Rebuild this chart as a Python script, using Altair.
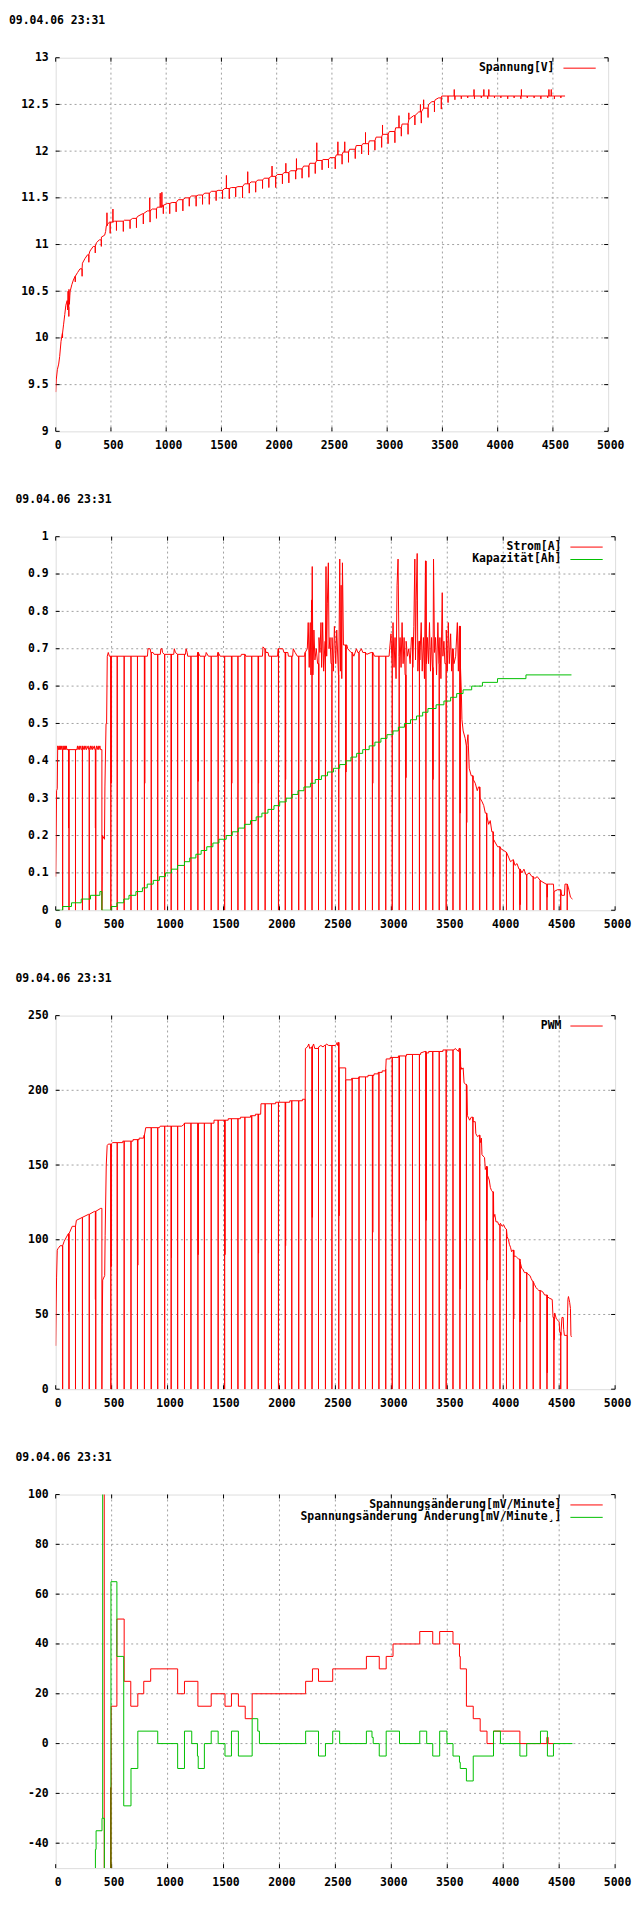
import altair as alt
import pandas as pd

# ---------------- text / ticks ----------------
STAMP = "09.04.06 23:31"
X_TICKS = [0, 500, 1000, 1500, 2000, 2500, 3000, 3500, 4000, 4500, 5000]
V_TICKS = [9, 9.5, 10, 10.5, 11, 11.5, 12, 12.5, 13]
A_TICKS = [0, 0.1, 0.2, 0.3, 0.4, 0.5, 0.6, 0.7, 0.8, 0.9, 1]
P_TICKS = [0, 50, 100, 150, 200, 250]
D_TICKS = [-40, -20, 0, 20, 40, 60, 80, 100]

# ---------------- pulse times (charging pauses) ----------------
PULSES = [62, 119, 177, 239, 300, 358, 413,
          493, 550, 612, 673, 731, 793, 854, 912, 974, 1032, 1090, 1151, 1209, 1271,
          1329, 1390, 1452, 1510, 1571, 1629, 1691, 1752, 1810, 1872, 1929, 1991, 2052,
          2110, 2172, 2230, 2291, 2349, 2411, 2469, 2530, 2592, 2650, 2711, 2769, 2831,
          2889, 2950, 3008, 3070, 3128, 3189, 3251, 3309, 3370, 3428, 3490, 3551, 3613,
          3671, 3729, 3790, 3852, 3910, 3971, 4029, 4091, 4149, 4210, 4268, 4330, 4391,
          4453, 4514, 4572]

# ---------------- chart 1: Spannung[V] ----------------
VOLT_X = [0, 5, 15, 27, 36, 48, 60, 71, 82, 92, 104, 108, 112, 116, 120, 124, 128, 131,
          146, 160, 176, 198, 220, 242, 265, 288, 310, 340, 369, 395, 414, 443, 452, 458,
          470, 488, 533, 622, 696, 740, 786, 830, 875, 920, 964, 1010, 1054, 1110, 1173,
          1230, 1292, 1350, 1411, 1470, 1530, 1590, 1649, 1710, 1768, 1830, 1887, 1950,
          2006, 2065, 2125, 2185, 2244, 2300, 2363, 2420, 2482, 2540, 2601, 2660, 2720,
          2780, 2839, 2900, 2958, 3020, 3077, 3135, 3196, 3240, 3286, 3330, 3375, 3405,
          3435, 3465, 3494, 3540, 4610]
VOLT_Y = [9.42, 9.55, 9.66, 9.72, 9.80, 9.96, 10.05, 10.14, 10.25, 10.35, 10.40, 10.30,
          10.50, 10.33, 10.52, 10.36, 10.45, 10.50, 10.57, 10.62, 10.66, 10.70, 10.74,
          10.80, 10.85, 10.89, 10.93, 10.98, 11.02, 11.05, 11.08, 11.10, 11.14, 11.20,
          11.22, 11.24, 11.25, 11.26, 11.28, 11.30, 11.33, 11.36, 11.38, 11.40, 11.42,
          11.44, 11.45, 11.48, 11.50, 11.52, 11.53, 11.55, 11.57, 11.58, 11.60, 11.61,
          11.62, 11.65, 11.67, 11.69, 11.71, 11.73, 11.75, 11.77, 11.79, 11.81, 11.84,
          11.87, 11.90, 11.91, 11.93, 11.96, 11.99, 12.02, 12.06, 12.08, 12.11, 12.15,
          12.18, 12.21, 12.25, 12.29, 12.34, 12.38, 12.42, 12.46, 12.50, 12.53, 12.55,
          12.57, 12.59, 12.59, 12.59]
V_DOWN = [0.05, 0.10, 0.06, 0.08, 0.08, 0.07, 0.07,
          0.12, 0.10, 0.11, 0.09, 0.10, 0.11, 0.12, 0.10, 0.09, 0.11,
          0.10, 0.12, 0.09, 0.11, 0.10, 0.12, 0.10, 0.09, 0.11, 0.10,
          0.12, 0.10, 0.11, 0.09, 0.10, 0.12, 0.10, 0.11, 0.09, 0.10,
          0.12, 0.11, 0.10, 0.09, 0.12, 0.10, 0.11, 0.10, 0.09, 0.12,
          0.10, 0.11, 0.10, 0.12, 0.09, 0.11, 0.10, 0.12, 0.10, 0.11, 0.12,
          0.07, 0.04, 0.03, 0.02, 0.03, 0.02, 0.03, 0.02, 0.02, 0.03,
          0.02, 0.03, 0.02, 0.02, 0.03, 0.02, 0.03, 0.02]
V_UP_X = [464, 518, 851, 946, 961, 1545, 1738, 1958, 2083, 2179, 2363, 2554, 2616, 2804,
          2958, 3107, 3196, 3301, 3330, 3607, 3786, 3875, 3920, 4215, 4464, 4485]
V_UP_Y = [11.34, 11.38, 11.50, 11.55, 11.56, 11.74, 11.78, 11.84, 11.87, 11.92, 12.09,
          12.10, 12.10, 12.20, 12.28, 12.38, 12.41, 12.50, 12.55, 12.66, 12.66, 12.66,
          12.66, 12.66, 12.66, 12.66]

# ---------------- chart 2: Strom[A], Kapazität[Ah] ----------------
CUR_X = [0, 4, 8, 14, 18, 25, 30, 35, 40, 45, 50, 55, 65, 70, 75, 80, 85, 90, 95, 100, 112,
         190, 195, 200, 210, 215, 225, 230, 240, 245, 255, 260, 270, 275, 290, 295, 310,
         315, 325, 330, 345, 350, 365, 370, 380, 385, 395, 400, 413, 413, 416, 418, 436,
         440, 450, 455, 461, 470, 480, 820, 825, 844, 850, 870, 880, 935, 940, 950, 955,
         970, 1055, 1060, 1070, 1090, 1160, 1165, 1175, 1180, 1265, 1270, 1290, 1340,
         1345, 1365, 1445, 1450, 1470, 1655, 1660, 1700, 1848, 1853, 1868, 1880, 1898,
         1905, 1983, 1988, 2030, 2040, 2075, 2080, 2118, 2123, 2140, 2160, 2225, 2230,
         2249, 2257, 2266, 2275, 2281, 2287, 2293, 2299, 2308, 2317, 2329, 2341, 2353,
         2362, 2371, 2377, 2386, 2395, 2407, 2416, 2422, 2428, 2437, 2443, 2452, 2461,
         2470, 2482, 2491, 2503, 2512, 2527, 2539, 2545, 2551, 2557, 2563, 2572, 2602,
         2610, 2640, 2665, 2688, 2700, 2732, 2745, 2780, 2820, 2850, 2980, 2985, 2997,
         3006, 3015, 3024, 3033, 3042, 3051, 3060, 3069, 3078, 3087, 3096, 3105, 3114,
         3123, 3132, 3144, 3156, 3168, 3180, 3192, 3201, 3210, 3216, 3222, 3231, 3237,
         3246, 3255, 3267, 3276, 3287, 3296, 3305, 3314, 3323, 3332, 3341, 3350, 3359,
         3368, 3377, 3386, 3395, 3404, 3416, 3425, 3434, 3443, 3455, 3461, 3470, 3479,
         3491, 3500, 3509, 3518, 3530, 3539, 3548, 3560, 3575, 3590, 3599, 3608, 3617,
         3626, 3631, 3642, 3660, 3670, 3685, 3696, 3714, 3732, 3750, 3768, 3779, 3793,
         3812, 3826, 3840, 3855, 3870, 3884, 3898, 3913, 3931, 3950, 3978, 4004, 4029,
         4051, 4065, 4087, 4105, 4123, 4141, 4167, 4185, 4203, 4232, 4257, 4282, 4304,
         4330, 4355, 4384, 4420, 4449, 4452, 4485, 4511, 4522, 4547, 4552, 4565, 4583,
         4601, 4619]
CUR_Y = [0.09, 0.20, 0.32, 0.325, 0.44, 0.43, 0.44, 0.43, 0.44, 0.43, 0.44, 0.43, 0.44,
         0.43, 0.44, 0.43, 0.44, 0.43, 0.44, 0.43, 0.43, 0.43, 0.44, 0.43, 0.44, 0.43,
         0.44, 0.43, 0.44, 0.43, 0.44, 0.43, 0.44, 0.43, 0.44, 0.43, 0.44, 0.43, 0.44,
         0.43, 0.44, 0.43, 0.44, 0.43, 0.44, 0.43, 0.44, 0.43, 0.43, 0.0, 0.09, 0.20,
         0.19, 0.33, 0.50, 0.50, 0.68, 0.69, 0.68, 0.68, 0.70, 0.70, 0.69, 0.69, 0.685,
         0.685, 0.70, 0.70, 0.69, 0.685, 0.685, 0.70, 0.69, 0.685, 0.685, 0.70, 0.69,
         0.68, 0.68, 0.69, 0.68, 0.68, 0.69, 0.68, 0.68, 0.69, 0.68, 0.68, 0.685, 0.68,
         0.68, 0.705, 0.70, 0.69, 0.69, 0.68, 0.68, 0.70, 0.70, 0.69, 0.69, 0.68, 0.68,
         0.70, 0.69, 0.68, 0.68, 0.69, 0.70, 0.77, 0.65, 0.77, 0.63, 0.83, 0.92, 0.63,
         0.75, 0.67, 0.70, 0.66, 0.73, 0.69, 0.77, 0.65, 0.77, 0.64, 0.72, 0.92, 0.68,
         0.82, 0.93, 0.70, 0.73, 0.66, 0.73, 0.64, 0.76, 0.66, 0.75, 0.63, 0.94, 0.64,
         0.87, 0.62, 0.93, 0.71, 0.71, 0.70, 0.69, 0.68, 0.70, 0.69, 0.70, 0.69, 0.685,
         0.69, 0.68, 0.68, 0.70, 0.74, 0.66, 0.77, 0.65, 0.73, 0.62, 0.87, 0.94, 0.68,
         0.73, 0.65, 0.77, 0.66, 0.73, 0.63, 0.72, 0.68, 0.70, 0.66, 0.73, 0.65, 0.76,
         0.94, 0.67, 0.83, 0.955, 0.64, 0.72, 0.67, 0.77, 0.64, 0.73, 0.62, 0.935, 0.66,
         0.73, 0.66, 0.77, 0.64, 0.73, 0.65, 0.94, 0.69, 0.73, 0.63, 0.77, 0.66, 0.73,
         0.62, 0.85, 0.68, 0.72, 0.66, 0.75, 0.64, 0.77, 0.66, 0.74, 0.64, 0.70, 0.66,
         0.68, 0.77, 0.64, 0.76, 0.66, 0.58, 0.51, 0.48, 0.46, 0.44, 0.47, 0.38, 0.36,
         0.35, 0.34, 0.32, 0.33, 0.30, 0.29, 0.28, 0.26, 0.25, 0.23, 0.24, 0.21, 0.19,
         0.18, 0.17, 0.165, 0.16, 0.155, 0.14, 0.13, 0.135, 0.12, 0.125, 0.11, 0.10,
         0.11, 0.095, 0.10, 0.09, 0.085, 0.09, 0.08, 0.075, 0.07, 0.07, 0.07, 0.05,
         0.055, 0.055, 0.04, 0.04, 0.07, 0.07, 0.06, 0.035, 0.03]
C_PART_X = [115, 355, 496, 796, 1035, 1274, 1574, 1813, 2055, 2352, 2595, 2834, 3131,
            3373, 3616, 3674, 3913, 4152, 4394]
C_PART_Y = [0.22, 0.22, 0.34, 0.34, 0.35, 0.345, 0.34, 0.34, 0.35, 0.35, 0.37, 0.34,
            0.355, 0.35, 0.26, 0.235, 0.09, 0.015, 0.035]
KAP_X = [0, 62, 141, 228, 311, 395, 413, 496, 547, 608, 655, 717, 775, 818, 872, 927, 981,
         1035, 1089, 1151, 1198, 1253, 1300, 1350, 1405, 1459, 1524, 1578, 1633, 1687,
         1741, 1792, 1843, 1897, 1951, 2002, 2060, 2114, 2165, 2219, 2277, 2320, 2375,
         2429, 2483, 2538, 2592, 2639, 2690, 2744, 2802, 2853, 2907, 2961, 3015, 3063,
         3117, 3171, 3225, 3280, 3327, 3400, 3470, 3530, 3584, 3641, 3718, 3814, 3949,
         4203, 4610]
KAP_Y = [0, 0.01, 0.02, 0.03, 0.04, 0.05, 0, 0.01, 0.02, 0.03, 0.04, 0.05, 0.06, 0.07,
         0.08, 0.09, 0.10, 0.11, 0.12, 0.13, 0.14, 0.15, 0.16, 0.17, 0.18, 0.19, 0.20,
         0.21, 0.22, 0.23, 0.24, 0.25, 0.26, 0.27, 0.28, 0.29, 0.30, 0.31, 0.32, 0.33,
         0.34, 0.35, 0.36, 0.37, 0.38, 0.39, 0.40, 0.41, 0.42, 0.43, 0.44, 0.45, 0.46,
         0.47, 0.48, 0.49, 0.50, 0.51, 0.52, 0.53, 0.54, 0.55, 0.56, 0.57, 0.58, 0.59,
         0.60, 0.61, 0.62, 0.63, 0.63]

# ---------------- chart 3: PWM ----------------
PWM_X = [0, 4, 8, 14, 20, 40, 76, 112, 148, 185, 239, 293, 347, 402, 413, 413, 416, 420,
         438, 442, 452, 460, 470, 510, 600, 600, 691, 691, 746, 746, 785, 790, 805, 927,
         934, 1126, 1144, 1151, 1415, 1415, 1542, 1542, 1651, 1651, 1741, 1741, 1785, 1785,
         1832, 1835, 1966, 1966, 2092, 2092, 2205, 2205, 2228, 2232, 2250, 2262, 2270,
         2290, 2305, 2315, 2350, 2370, 2390, 2400, 2420, 2440, 2500, 2510, 2515, 2520,
         2528, 2532, 2592, 2592, 2646, 2646, 2711, 2711, 2791, 2791, 2845, 2845, 2882,
         2882, 2918, 2918, 2947, 2950, 2954, 2990, 2990, 3063, 3063, 3135, 3135, 3262,
         3262, 3300, 3310, 3334, 3334, 3461, 3461, 3560, 3570, 3600, 3605, 3616, 3620,
         3630, 3642, 3650, 3665, 3676, 3680, 3700, 3714, 3730, 3750, 3755, 3770, 3787,
         3795, 3805, 3810, 3820, 3833, 3840, 3852, 3860, 3875, 3885, 3895, 3906, 3915,
         3925, 3935, 3950, 3960, 3975, 3990, 4004, 4015, 4029, 4035, 4047, 4055, 4065,
         4075, 4083, 4095, 4112, 4125, 4138, 4150, 4165, 4177, 4190, 4203, 4220, 4239,
         4250, 4264, 4280, 4293, 4305, 4319, 4335, 4355, 4370, 4395, 4410, 4438, 4445,
         4460, 4475, 4490, 4500, 4505, 4515, 4525, 4536, 4540, 4547, 4572, 4578, 4583,
         4594, 4601, 4605, 4610]
PWM_Y = [29, 55, 75, 93, 94, 96, 99, 104, 109, 113, 115, 117, 119, 121, 121, 0, 43, 73,
         76, 103, 150, 163, 164, 165, 165, 166, 166, 167, 167, 168, 168, 170, 175, 175,
         176, 176, 177, 178, 178, 180, 180, 181, 181, 182, 182, 183, 183, 184, 184, 191,
         191, 192, 192, 193, 193, 194, 194, 228, 229, 231, 228, 229, 231, 228, 229, 230,
         229, 230, 231, 230, 230, 231, 232, 230, 232, 215, 215, 207, 207, 208, 208, 209,
         209, 210, 210, 211, 211, 212, 212, 213, 213, 214, 221, 221, 222, 222, 223, 223,
         224, 224, 225, 226, 225, 225, 226, 226, 227, 227, 228, 226, 228, 226, 216, 214,
         215, 205, 204, 203, 183, 180, 182, 179, 179, 171, 169, 170, 165, 168, 157, 156,
         155, 147, 149, 143, 140, 135, 133, 132, 115, 117, 112, 112, 110, 111, 109, 110,
         108, 107, 102, 100, 97, 95, 92, 93, 89, 89, 88, 87, 85, 81, 80, 78, 78, 77, 76,
         74, 72, 70, 68, 67, 66, 66, 65, 63, 62, 61, 60, 48, 51, 47, 46, 45, 38, 36, 48,
         48, 40, 36, 36, 60, 62, 58, 54, 36, 35]
P_PART_X = [115, 355, 496, 734, 1035, 1274, 1513, 1813, 2055, 2294, 2533, 2834, 3073,
            3312, 3616, 3855, 3913, 4094, 4152, 4394, 4456]
P_PART_Y = [52, 60, 82, 83, 88, 90, 90, 91, 96, 115, 116, 105, 112, 113, 67, 73, 99, 47,
            45, 11, 33]

# ---------------- chart 4: Spannungsänderung (step series, segment ids) ----------------
D_RED_X = [434, 434,
           488, 490, 496, 547, 612, 671, 734, 787, 849, 1090, 1151, 1271, 1390, 1513, 1571,
           1633, 1694, 1756, 2234, 2295, 2349, 2476, 2777, 2892, 2954, 3015, 3254, 3370,
           3432, 3551, 3609, 3616, 3671, 3732, 3794, 3855, 3913, 4149, 4390, 4402, 4450]
D_RED_Y = [-400, 400,
           -17.6, -400, 15, 50, 25, 15, 20, 25, 30, 20, 25, 15, 20, 15, 20, 15, 10, 20, 25,
           30, 25, 30, 35, 30, 35, 40, 45, 40, 45, 40, 35, 30, 15, 10, 5, 0, 5, 0, 2.5, 0, 0]
D_RED_S = [0, 0] + [1] * 41
D_GRN_X = [352, 355, 361, 414, 420,
           420, 435, 435,
           494, 494, 547, 608, 673, 734, 912, 1090, 1151, 1216, 1267, 1274, 1329, 1390,
           1452, 1513, 1571, 1633, 1756, 1806, 1821, 2234, 2349, 2411, 2476, 2538, 2777,
           2827, 2838, 2892, 2954, 3073, 3254, 3316, 3370, 3432, 3497, 3551, 3609, 3616,
           3671, 3732, 3913, 3975, 4149, 4210, 4333, 4395, 4449, 4619]
D_GRN_Y = [-400, -42.5, -35, -30, 400,
           -30, -30, -400,
           -400, 65, 35, -25, -10, 5, 0, -10, 5, 0, -5, -10, 0, 5, 0, -5, 5, -5, 10, 5, 0,
           5, -5, 0, 5, 0, 5, 2.5, 0, -5, 5, 0, 5, 0, -5, 5, 0, -5, -7.5, -10, -15, -5, 5,
           0, -5, 0, 5, -5, 0, 0]
D_GRN_S = [0] * 5 + [1] * 3 + [2] * 50

# ---------------- styling ----------------
FONT = "DejaVu Sans Mono"
FS = 11.5
RED = "#ff0000"
GREEN = "#00c000"
GRID = "#a0a0a0"
H = 376


def build(xs, ys, events):
    """Insert spikes (vertical excursions) into a base polyline."""
    ev = sorted(events, key=lambda e: e[0])
    ox, oy = [], []
    j = 0
    for x, y in zip(xs, ys):
        while j < len(ev) and ev[j][0] < x:
            t, v, rel = ev[j]
            lvl = oy[-1] if oy else y
            tgt = lvl + v if rel else v
            ox += [t, t, t]
            oy += [lvl, tgt, lvl]
            j += 1
        ox.append(x)
        oy.append(y)
    return ox, oy


def frame(xs, ys, seg=None):
    return pd.DataFrame({"x": xs, "y": ys, "i": list(range(len(xs))),
                         "s": seg if seg is not None else [0] * len(xs)})


def panel(W, left, ydom, yticks, ygrid, series, legend):
    xs = alt.Scale(domain=[0, 5000], nice=False, zero=False)
    ys = alt.Scale(domain=ydom, nice=False, zero=False)
    common = dict(title=None, grid=False, domain=False, ticks=False, tickSize=0,
                  labelFont=FONT, labelFontSize=FS, labelFontWeight="bold",
                  labelColor="black", labelOverlap=False, labelFlush=False,
                  labelExpr="'' + datum.value")
    xaxis = alt.Axis(values=X_TICKS, labelPadding=14, labelBaseline="middle",
                     labelOffset=2, minExtent=20, maxExtent=20, **common)
    yaxis = alt.Axis(values=yticks, labelPadding=7.6, labelAlign="right",
                     labelBaseline="middle", minExtent=left, maxExtent=left, **common)
    X = alt.X("x:Q", scale=xs, axis=xaxis)
    Y = alt.Y("y:Q", scale=ys, axis=yaxis)

    layers = []
    layers.append(alt.Chart(pd.DataFrame({"x": X_TICKS[1:-1]})).mark_rule(
        color=GRID, strokeDash=[2, 3], strokeWidth=1).encode(x=X))
    layers.append(alt.Chart(pd.DataFrame({"y": ygrid})).mark_rule(
        color=GRID, strokeDash=[2, 3], strokeWidth=1).encode(y=Y))
    xt = pd.DataFrame({"x": X_TICKS})
    yt = pd.DataFrame({"y": yticks})
    layers.append(alt.Chart(xt).mark_rule(color="black").encode(
        x=X, y=alt.value(H - 4), y2=alt.value(H)))
    layers.append(alt.Chart(xt).mark_rule(color="black").encode(
        x=X, y=alt.value(0), y2=alt.value(4)))
    layers.append(alt.Chart(yt).mark_rule(color="black").encode(
        y=Y, x=alt.value(0), x2=alt.value(4)))
    layers.append(alt.Chart(yt).mark_rule(color="black").encode(
        y=Y, x=alt.value(W - 4), x2=alt.value(W)))

    for df, color, interp in series:
        layers.append(alt.Chart(df).mark_line(
            color=color, strokeWidth=1, clip=True, interpolate=interp).encode(
            x=X, y=Y, order=alt.Order("i:Q"), detail="s:N"))

    for (label, color), ry in zip(legend, [10.5, 23]):
        ld = pd.DataFrame({"t": [label]})
        layers.append(alt.Chart(ld).mark_text(
            align="right", baseline="middle", font=FONT, fontSize=FS,
            fontWeight="bold", color="black").encode(
            x=alt.value(W - 54), y=alt.value(ry), text="t:N"))
        layers.append(alt.Chart(ld).mark_rule(color=color, strokeWidth=1).encode(
            x=alt.value(W - 45), x2=alt.value(W - 12.5), y=alt.value(ry)))

    layers.append(alt.Chart(pd.DataFrame({"t": [STAMP]})).mark_text(
        align="left", baseline="top", font=FONT, fontSize=FS, fontWeight="bold",
        color="black").encode(x=alt.value(-left), y=alt.value(-43), text="t:N"))

    return alt.layer(*layers).properties(width=W, height=H)


# ---- assemble series ----
v_events = [(t, -d, True) for t, d in zip(PULSES, V_DOWN)] + \
           [(t, v, False) for t, v in zip(V_UP_X, V_UP_Y)]
vx, vy = build(VOLT_X, VOLT_Y, v_events)

c_events = [(t, 0.0, False) for t in PULSES if t != 413] + \
           [(t, v, False) for t, v in zip(C_PART_X, C_PART_Y)]
cx, cy = build(CUR_X, CUR_Y, c_events)

p_events = [(t, 0.0, False) for t in PULSES if t != 413] + \
           [(t, v, False) for t, v in zip(P_PART_X, P_PART_Y)]
px, py = build(PWM_X, PWM_Y, p_events)

p1 = panel(556, 47, [9, 13], V_TICKS, V_TICKS[1:-1],
           [(frame(vx, vy), RED, "linear")],
           [("Spannung[V]", RED)])
p2 = panel(563, 40.5, [0, 1], A_TICKS, A_TICKS[1:-1],
           [(frame(cx, cy), RED, "linear"), (frame(KAP_X, KAP_Y), GREEN, "step-after")],
           [("Strom[A]", RED), ("Kapazität[Ah]", GREEN)])
p3 = panel(563, 40.5, [0, 250], P_TICKS, P_TICKS[1:-1],
           [(frame(px, py), RED, "linear")],
           [("PWM", RED)])
p4 = panel(563, 40.5, [-50, 100], D_TICKS, D_TICKS[:-1],
           [(frame(D_RED_X, D_RED_Y, D_RED_S), RED, "step-after"),
            (frame(D_GRN_X, D_GRN_Y, D_GRN_S), GREEN, "step-after")],
           [("Spannungsänderung[mV/Minute]", RED),
            ("Spannungsänderung Änderung[mV/Minute¸]", GREEN)])

chart = alt.vconcat(p1, p2, p3, p4, spacing=41).properties(padding=0).configure_view(
    stroke="black", strokeWidth=1).configure(background="white")

chart.save("out.html", embed_options={"renderer": "svg", "actions": False})
